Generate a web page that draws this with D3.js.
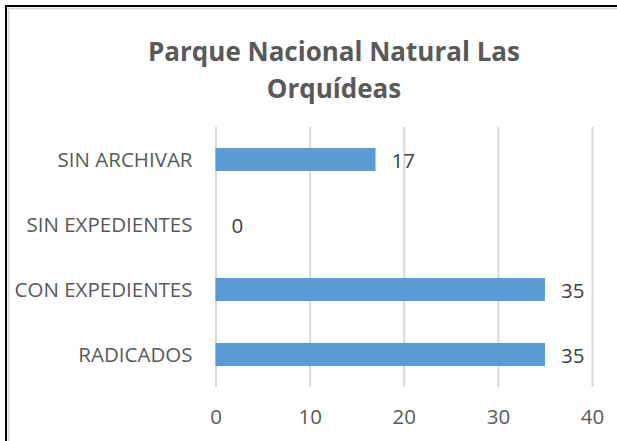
<!DOCTYPE html>
<html>
<head>
<meta charset="utf-8">
<script src="https://cdn.jsdelivr.net/npm/d3@7"></script>
<style>
  html, body { margin: 0; padding: 0; background: #fff; }
  svg { display: block; }
  text { font-family: "Open Sans", sans-serif; }
</style>
</head>
<body>
<script>
const titleLines = ["Parque Nacional Natural Las", "Orquídeas"];
const categories = ["SIN ARCHIVAR", "SIN EXPEDIENTES", "CON EXPEDIENTES", "RADICADOS"];
const values = [17, 0, 35, 35];
const tickValues = [0, 10, 20, 30, 40];

const W = 617, H = 441;
const svg = d3.select("body").append("svg").attr("width", W).attr("height", H);

svg.append("rect").attr("width", W).attr("height", H).attr("fill", "#fff");

// frame (top and left edges visible)
svg.append("path").attr("d", `M6,${H} V6 H${W}`).attr("fill", "none").attr("stroke", "#000").attr("stroke-width", 2);
svg.append("path").attr("d", `M8.5,${H} V8.5 H${W}`).attr("fill", "none").attr("stroke", "#d9d9d9").attr("stroke-width", 2);

const plot = { left: 215.5, right: 592, top: 127, bottom: 387 };

const x = d3.scaleLinear().domain([0, 40]).range([plot.left, plot.right]);
const y = d3.scaleBand().domain(categories).range([plot.top, plot.bottom])
  .paddingInner(0.646).paddingOuter(0.323);

// gridlines
const grid = svg.append("g").attr("transform", `translate(0,${plot.bottom})`)
  .call(d3.axisBottom(x).tickValues(tickValues).tickSize(-(plot.bottom - plot.top)).tickFormat(""));
grid.select(".domain").remove();
grid.selectAll(".tick line").attr("stroke", "#d9d9d9").attr("stroke-width", 2);

// x tick labels
const xa = svg.append("g").attr("transform", `translate(0,${plot.bottom})`)
  .call(d3.axisBottom(x).tickValues(tickValues).tickSize(0).tickPadding(0));
xa.select(".domain").remove();
xa.selectAll("text").attr("font-family", "Open Sans").attr("font-size", 20.5)
  .attr("fill", "#595959").attr("dy", null).attr("y", 37);

// y labels
const ya = svg.append("g").attr("transform", `translate(${plot.left - 23},0)`)
  .call(d3.axisLeft(y).tickSize(0).tickPadding(0));
ya.select(".domain").remove();
ya.selectAll("text").attr("font-family", "Open Sans").attr("font-size", 20.5)
  .attr("fill", "#595959").attr("dy", null).attr("y", 7.5);

// bars
svg.append("g").selectAll("rect").data(values).join("rect")
  .attr("x", x(0))
  .attr("y", (d, i) => y(categories[i]))
  .attr("width", d => x(d) - x(0))
  .attr("height", y.bandwidth())
  .attr("fill", "#5b9bd5");

// data labels
svg.append("g").selectAll("text").data(values).join("text")
  .attr("x", d => x(d) + 16)
  .attr("y", (d, i) => y(categories[i]) + y.bandwidth() / 2 + 8.5)
  .attr("font-size", 20.5)
  .attr("fill", "#404040")
  .text(d => d);

// title
svg.append("g").selectAll("text").data(titleLines).join("text")
  .attr("x", 334)
  .attr("y", (d, i) => 60.5 + i * 37)
  .attr("text-anchor", "middle")
  .attr("font-size", 26)
  .attr("font-weight", "bold")
  .attr("fill", "#595959")
  .text(d => d);
</script>
</body>
</html>
